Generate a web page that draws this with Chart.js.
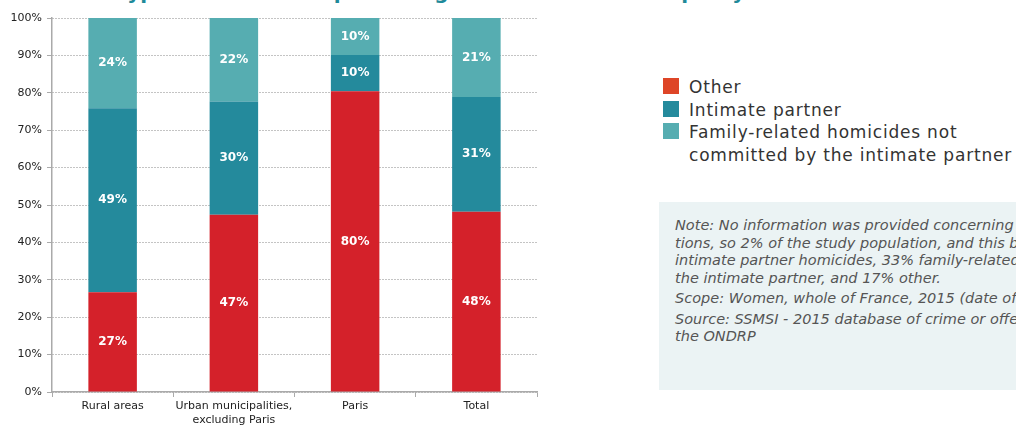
<!DOCTYPE html>
<html>
<head>
<meta charset="utf-8">
<script src="https://cdn.jsdelivr.net/npm/chart.js@4"></script>
<style>
  html, body { margin: 0; padding: 0; background: #fff; overflow: hidden; }
  body { width: 1016px; height: 426px; position: relative; }
  #title { position: absolute; left: 116px; top: -19px; font: bold 20px "DejaVu Sans", sans-serif; line-height: 22px; color: #1f8a9a; white-space: nowrap; }
  #wrap { position: absolute; left: 0; top: 0; width: 560px; height: 426px; }
  #legend { position: absolute; left: 663px; top: 76px; font: 17px "DejaVu Sans", sans-serif; letter-spacing: 0.8px; color: #333; }
  .item { position: relative; padding-left: 26px; line-height: 22.5px; white-space: nowrap; }
  .sw { position: absolute; left: 0; top: 2px; width: 16px; height: 16px; }
  #note { position: absolute; left: 659px; top: 202px; width: 400px; height: 188px; background: #ebf3f4; }
  #note p { margin: 0 0 3px 16px; font: italic 200 14.5px "DejaVu Sans", sans-serif; color: #555; line-height: 17.5px; white-space: nowrap; }
  #note .first { margin-top: 15px; }
</style>
</head>
<body>
<div id="title">Types of homicide: percentage within each municipality</div>
<div id="wrap"><canvas id="chart"></canvas></div>
<div id="legend"></div>
<div id="note">
  <p class="first">Note: No information was provided concerning the relationship in 3 situa-<br>tions, so 2% of the study population, and this breakdown is 50% of<br>intimate partner homicides, 33% family-related homicides not committed by<br>the intimate partner, and 17% other.</p>
  <p>Scope: Women, whole of France, 2015 (date of events).</p>
  <p>Source: SSMSI - 2015 database of crime or offences, processing by<br>the ONDRP</p>
</div>
<script>
// categories and values (percent of homicides)
const categories = ["Rural areas", ["Urban municipalities,", "excluding Paris"], "Paris", "Total"];
const otherValues = [26.7, 47.4, 80.4, 48.2];
const partnerValues = [49.2, 30.3, 9.7, 30.7];
const familyValues = [24.1, 22.3, 9.9, 21.1];
const yTicks = [0, 10, 20, 30, 40, 50, 60, 70, 80, 90, 100];

const seriesNames = ["Other", "Intimate partner", "Family-related homicides not committed by the intimate partner"];
const barColors = ["#d4212a", "#248a9c", "#56adb1"];
const legendColors = ["#de4527", "#248a9c", "#56adb1"];

// legend drawn by hand on the right
const legend = document.getElementById("legend");
const legendText = ["Other", "Intimate partner", "Family-related homicides not<br>committed by the intimate partner"];
legendText.forEach(function (t, i) {
  const d = document.createElement("div");
  d.className = "item";
  d.innerHTML = '<span class="sw" style="background:' + legendColors[i] + '"></span>' + t;
  legend.appendChild(d);
});

// white percentage labels in the middle of each segment
const segmentLabels = {
  id: "segmentLabels",
  afterDatasetsDraw(chart) {
    const ctx = chart.ctx;
    ctx.save();
    ctx.font = "bold 12px 'DejaVu Sans', sans-serif";
    ctx.fillStyle = "#fff";
    ctx.textAlign = "center";
    ctx.textBaseline = "middle";
    chart.data.datasets.forEach(function (ds, i) {
      chart.getDatasetMeta(i).data.forEach(function (bar, j) {
        const y = (bar.y + bar.base) / 2;
        ctx.fillText(Math.round(ds.data[j]) + "%", bar.x, y);
      });
    });
    ctx.restore();
  }
};

new Chart(document.getElementById("chart"), {
  type: "bar",
  data: {
    labels: categories,
    datasets: [
      { label: seriesNames[0], data: otherValues, backgroundColor: barColors[0] },
      { label: seriesNames[1], data: partnerValues, backgroundColor: barColors[1] },
      { label: seriesNames[2], data: familyValues, backgroundColor: barColors[2] }
    ]
  },
  options: {
    responsive: true,
    maintainAspectRatio: false,
    animation: false,
    layout: { padding: { left: 0, right: 23, top: 18, bottom: 0 } },
    plugins: { legend: { display: false }, tooltip: { enabled: false } },
    datasets: { bar: { barPercentage: 0.4, categoryPercentage: 1 } },
    scales: {
      x: {
        stacked: true,
        afterFit(scale) { scale.height = 34; },
        grid: { drawOnChartArea: false, drawTicks: true, tickLength: 5, tickColor: "#aaa", offset: true },
        border: { color: "#aaa", width: 1.5 },
        ticks: { color: "#222", font: { family: "DejaVu Sans", size: 11 }, padding: 3, maxRotation: 0, autoSkip: false }
      },
      y: {
        stacked: true,
        min: 0,
        max: 100,
        afterFit(scale) { scale.width = 52; },
        afterBuildTicks(scale) { scale.ticks = yTicks.map(function (v) { return { value: v }; }); },
        grid: { color: "#888", tickColor: "#aaa", tickLength: 5, tickBorderDash: [] },
        border: { color: "#aaa", width: 1.5, dash: [1, 2] },
        ticks: {
          color: "#222",
          font: { family: "DejaVu Sans", size: 11 },
          padding: 5,
          callback: function (v) { return v + "%"; }
        }
      }
    }
  },
  plugins: [segmentLabels]
});
</script>
</body>
</html>
